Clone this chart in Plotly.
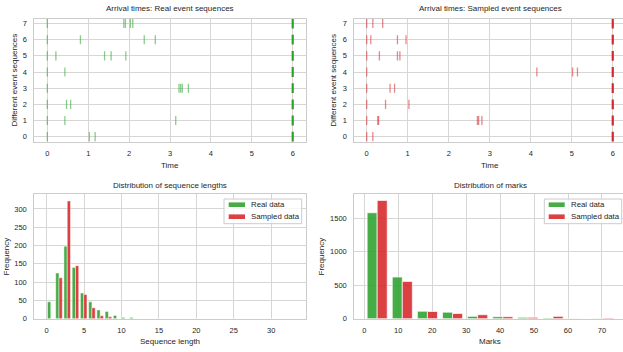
import plotly.graph_objects as go

# ---------------- data ----------------
row_ids = [0, 1, 2, 3, 4, 5, 6, 7]
real_rows = [
    [0.0, 1.03, 1.17],
    [0.0, 0.43, 3.14],
    [0.0, 0.47, 0.57],
    [0.0, 3.22, 3.26, 3.30, 3.45],
    [0.0, 0.43],
    [0.0, 0.21, 1.40, 1.56, 1.92],
    [0.0, 0.81, 2.37, 2.64],
    [0.0, 1.87, 1.91, 2.03, 2.09],
]
sampled_rows = [
    [0.0, 0.15],
    [0.0, 0.27, 0.29, 2.70, 2.73, 2.81],
    [0.0, 0.46, 1.03],
    [0.0, 0.57, 0.68],
    [0.0, 4.15, 5.02, 5.14],
    [0.0, 0.31, 0.75, 0.81],
    [0.0, 0.10, 0.75, 0.96],
    [0.0, 0.15, 0.39],
]
t_end = 6.0

length_bin_start = 0.0
length_bin_width = 1.1
length_real = [46, 125, 198, 140, 70, 46, 24, 20, 9, 3, 3, 0, 0, 0, 0,
               0, 0, 0, 0, 0, 0, 0, 0, 0, 0, 0, 0, 0, 0, 0]
length_sampled = [0, 112, 322, 145, 66, 30, 8, 5, 0, 0, 0, 0, 0, 0, 0,
                  0, 0, 0, 0, 0, 0, 0, 0, 0, 0, 0, 0, 0, 0, 0]

mark_bin_start = 0.1
mark_bin_width = 7.4
marks_real = [1584, 623, 112, 98, 35, 30, 20, 10, 3, 2]
marks_sampled = [1769, 558, 108, 78, 60, 30, 20, 35, 0, 10]

series_names = ["Real data", "Sampled data"]

# ---------------- styling ----------------
W, H = 623, 352
FONT = "Liberation Sans, Arial, sans-serif"
TXT = "#262626"
GREEN = "rgba(44,160,44,0.88)"
RED = "rgba(214,39,40,0.88)"
GREEN_T = "rgba(44,160,44,0.55)"
RED_T = "rgba(214,39,40,0.55)"
GRID = "#d6d6d6"
SPINE = "#cccccc"


def px(x):
    return x / W


def py(y):
    return 1 - y / H


fig = go.Figure()

# ---------- event plots ----------
def add_events(rows, color_t, color_end, xa, ya):
    xs, ys = [], []
    for r, times in zip(row_ids, rows):
        for t in times:
            xs.append(t)
            ys.append(r)
    fig.add_trace(go.Scatter(
        x=xs, y=ys, mode="markers", xaxis=xa, yaxis=ya, showlegend=False,
        marker=dict(symbol="line-ns", size=6.5,
                    line=dict(color=color_t, width=1.3)),
        hoverinfo="skip"))
    fig.add_trace(go.Scatter(
        x=[t_end] * len(row_ids), y=row_ids, mode="markers", xaxis=xa, yaxis=ya,
        showlegend=False,
        marker=dict(symbol="line-ns", size=7,
                    line=dict(color=color_end, width=2.2)),
        hoverinfo="skip"))


add_events(real_rows, GREEN_T, "rgb(44,160,44)", "x", "y")
add_events(sampled_rows, RED_T, "rgb(214,39,40)", "x2", "y2")

# ---------- histograms ----------
len_centers = [length_bin_start + (k + 0.5) * length_bin_width for k in range(len(length_real))]
mark_centers = [mark_bin_start + (k + 0.5) * mark_bin_width for k in range(len(marks_real))]

for vals, col, name in [(length_real, GREEN, series_names[0]), (length_sampled, RED, series_names[1])]:
    fig.add_trace(go.Bar(x=len_centers, y=vals, name=name, xaxis="x3", yaxis="y3",
                         marker=dict(color=col, line=dict(color="white", width=0.5)),
                         showlegend=False, offsetgroup=name))
for vals, col, name in [(marks_real, GREEN, series_names[0]), (marks_sampled, RED, series_names[1])]:
    fig.add_trace(go.Bar(x=mark_centers, y=vals, name=name, xaxis="x4", yaxis="y4",
                         marker=dict(color=col, line=dict(color="white", width=0.7)),
                         showlegend=False, offsetgroup=name))

# ---------- axes ----------
def ax(domain, rng, tickvals, anchor, standoff):
    return dict(domain=domain, range=rng, tickvals=tickvals,
                ticktext=[str(v) for v in tickvals], anchor=anchor,
                showgrid=True, gridcolor=GRID, gridwidth=1,
                showline=True, linecolor=SPINE, linewidth=1, mirror=True,
                zeroline=False, ticks="", ticklabelstandoff=standoff,
                tickfont=dict(family=FONT, size=7.5, color=TXT),
                automargin=False, fixedrange=True)


xL = [px(34.3), px(306)]
xR = [px(354.3), 1.0]
yT = [py(142), py(19)]
yB = [py(318.7), py(194.3)]

fig.update_layout(
    width=W, height=H, margin=dict(l=0, r=0, t=0, b=0),
    paper_bgcolor="white", plot_bgcolor="white",
    barmode="group", bargap=0.2, bargroupgap=0,
    xaxis=ax(xL, [-0.318, 6.325], [0, 1, 2, 3, 4, 5, 6], "y", 4),
    yaxis=ax(yT, [-0.33, 7.28], row_ids, "x", 5),
    xaxis2=ax(xR, [-0.302, 6.25], [0, 1, 2, 3, 4, 5, 6], "y2", 4),
    yaxis2=ax(yT, [-0.33, 7.28], row_ids, "x2", 5),
    xaxis3=ax(xL, [-1.65, 34.65], [0, 5, 10, 15, 20, 25, 30], "y3", 4),
    yaxis3=ax(yB, [0, 340], [0, 50, 100, 150, 200, 250, 300], "x3", 5),
    xaxis4=ax(xR, [-2.94, 76.2], [0, 10, 20, 30, 40, 50, 60, 70], "y4", 4),
    yaxis4=ax(yB, [0, 1860], [0, 500, 1000, 1500], "x4", 5),
    showlegend=False,
)

# ---------- text ----------
ann = []


def text(x, y, s, size, angle=0, xanchor="center"):
    ann.append(dict(x=px(x), y=py(y), xref="paper", yref="paper", text=s,
                    showarrow=False, xanchor=xanchor, yanchor="middle",
                    textangle=angle, font=dict(family=FONT, size=size, color=TXT)))


text(170, 9, "Arrival times: Real event sequences", 8)
text(490, 9, "Arrival times: Sampled event sequences", 8)
text(170, 185.3, "Distribution of sequence lengths", 8)
text(490, 185.3, "Distribution of marks", 8)
text(170, 165.7, "Time", 8)
text(490, 165.7, "Time", 8)
text(170, 341.7, "Sequence length", 8)
text(490, 341.7, "Marks", 8)
text(14, 80.5, "Different event sequences", 8, angle=-90)
text(333.3, 80.5, "Different event sequences", 8, angle=-90)
text(6, 256.5, "Frequency", 8, angle=-90)
text(321, 256.5, "Frequency", 8, angle=-90)

# ---------- legends (drawn) ----------
shapes = []


def legend(x0, x1, patch_x0, patch_x1, text_x):
    shapes.append(dict(type="rect", xref="paper", yref="paper",
                       x0=px(x0), x1=px(x1), y0=py(223.7), y1=py(199),
                       line=dict(color=SPINE, width=1), fillcolor="rgba(255,255,255,0.8)"))
    for yy, col, name in [(204.7, GREEN, series_names[0]), (216.7, RED, series_names[1])]:
        shapes.append(dict(type="rect", xref="paper", yref="paper",
                           x0=px(patch_x0), x1=px(patch_x1), y0=py(yy + 2.3), y1=py(yy - 2.3),
                           line=dict(width=0), fillcolor=col))
        text(text_x, yy, name, 7.8, xanchor="left")


legend(224, 301.7, 228.7, 245, 248.5)
legend(544.3, 621.7, 548.7, 564.7, 568.5)

fig.update_layout(annotations=ann, shapes=shapes)
fig.write_html("out.html", config={"displayModeBar": False, "staticPlot": True},
               post_script="document.body.style.margin='0px';document.body.style.overflow='hidden';")
